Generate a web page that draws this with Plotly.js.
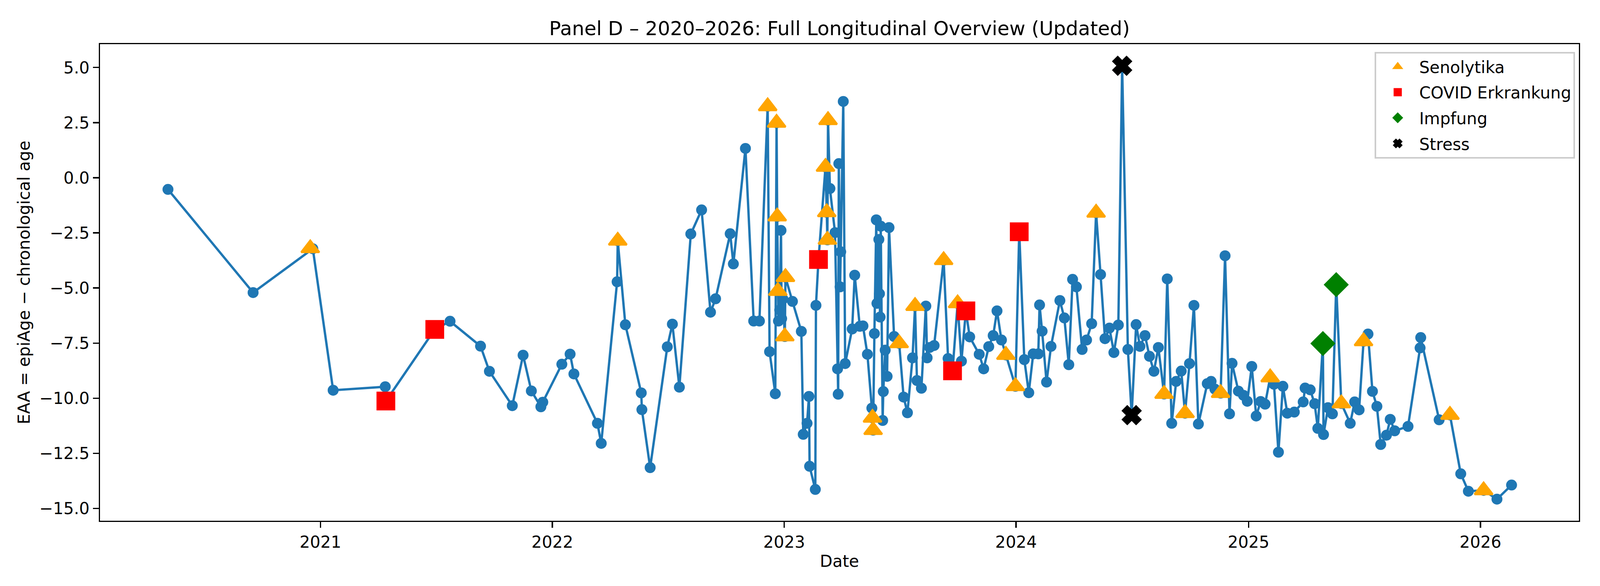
<!DOCTYPE html>
<html>
<head>
<meta charset="utf-8">
<script src="https://cdn.plot.ly/plotly-3.0.1.min.js"></script>
<style>html,body{margin:0;padding:0;background:#fff;overflow:hidden;}#chart{height:1500px;}</style>
</head>
<body>
<div id="chart"></div>
<script>
// ---- main series ----
const dates = [
"2020-05-06","2020-09-17","2020-12-20","2021-01-21","2021-04-13","2021-04-14","2021-06-30","2021-07-24","2021-09-10","2021-09-24",
"2021-10-30","2021-11-16","2021-11-29","2021-12-14","2021-12-17","2022-01-16","2022-01-29","2022-02-04","2022-03-13","2022-03-19",
"2022-04-13","2022-04-14","2022-04-26","2022-05-21","2022-05-22","2022-06-04","2022-07-01","2022-07-09","2022-07-20","2022-08-07",
"2022-08-24","2022-09-07","2022-09-15","2022-10-08","2022-10-13","2022-11-01","2022-11-14","2022-11-23","2022-12-06","2022-12-09",
"2022-12-18","2022-12-20","2022-12-21","2022-12-22","2022-12-23","2022-12-25","2022-12-27","2022-12-28","2022-12-30","2023-01-02",
"2023-01-03","2023-01-14","2023-01-28","2023-01-31","2023-02-06","2023-02-09","2023-02-10","2023-02-19","2023-02-20","2023-02-24",
"2023-03-07","2023-03-09","2023-03-10","2023-03-11","2023-03-14","2023-03-22","2023-03-26","2023-03-27","2023-03-28","2023-03-30",
"2023-03-31","2023-04-04","2023-04-07","2023-04-18","2023-04-22","2023-04-30","2023-05-05","2023-05-12","2023-05-19","2023-05-20",
"2023-05-21","2023-05-23","2023-05-26","2023-05-27","2023-05-30","2023-05-31","2023-06-01","2023-06-02","2023-06-05","2023-06-06",
"2023-06-09","2023-06-12","2023-06-15","2023-06-23","2023-07-01","2023-07-08","2023-07-14","2023-07-22","2023-07-26","2023-07-29",
"2023-08-05","2023-08-12","2023-08-14","2023-08-18","2023-08-25","2023-09-09","2023-09-16","2023-09-23","2023-10-01","2023-10-07",
"2023-10-14","2023-10-20","2023-11-04","2023-11-11","2023-11-19","2023-11-26","2023-12-02","2023-12-09","2023-12-16","2023-12-31",
"2024-01-06","2024-01-14","2024-01-21","2024-01-28","2024-02-05","2024-02-07","2024-02-11","2024-02-18","2024-02-25","2024-03-10",
"2024-03-17","2024-03-24","2024-03-30","2024-04-05","2024-04-14","2024-04-21","2024-04-29","2024-05-06","2024-05-13","2024-05-20",
"2024-05-27","2024-06-03","2024-06-10","2024-06-16","2024-06-25","2024-07-01","2024-07-08","2024-07-14","2024-07-22","2024-07-29",
"2024-08-05","2024-08-12","2024-08-21","2024-08-26","2024-09-02","2024-09-09","2024-09-17","2024-09-23","2024-09-30","2024-10-07",
"2024-10-14","2024-10-28","2024-11-03","2024-11-09","2024-11-18","2024-11-25","2024-12-02","2024-12-06","2024-12-16","2024-12-24",
"2024-12-30","2025-01-06","2025-01-13","2025-01-20","2025-01-27","2025-02-04","2025-02-10","2025-02-17","2025-02-24","2025-03-03",
"2025-03-14","2025-03-28","2025-03-31","2025-04-08","2025-04-15","2025-04-20","2025-04-28","2025-04-29","2025-05-06","2025-05-13",
"2025-05-19","2025-05-27","2025-06-10","2025-06-17","2025-06-24","2025-07-01","2025-07-08","2025-07-15","2025-07-22","2025-07-28",
"2025-08-06","2025-08-12","2025-08-19","2025-09-09","2025-09-28","2025-09-29","2025-10-28","2025-11-14","2025-12-01","2025-12-13",
"2026-01-06","2026-01-27","2026-02-19"
];
const eaa = [
-0.53,-5.21,-3.22,-9.64,-9.48,-10.13,-6.88,-6.51,-7.64,-8.78,
-10.34,-8.05,-9.67,-10.39,-10.18,-8.46,-8.00,-8.90,-11.14,-12.05,
-4.72,-2.86,-6.67,-9.76,-10.52,-13.15,-7.67,-6.64,-9.50,-2.55,
-1.46,-6.10,-5.49,-2.54,-3.91,1.33,-6.50,-6.50,3.24,-7.89,
-9.80,2.49,-1.76,-5.14,-6.50,-6.00,-2.39,-6.39,-5.50,-7.20,
-4.51,-5.61,-6.97,-11.64,-11.14,-9.92,-13.09,-14.14,-5.79,-3.71,
0.49,-1.57,-2.82,2.61,-0.49,-2.49,-8.67,-9.82,0.64,-4.95,
-3.36,3.46,-8.43,-6.86,-4.42,-6.74,-6.72,-8.01,-10.45,-10.89,
-11.45,-7.07,-1.91,-5.70,-2.80,-5.26,-6.32,-2.20,-11.01,-9.70,
-7.82,-9.01,-2.26,-7.20,-7.51,-9.95,-10.66,-8.17,-5.82,-9.20,
-9.55,-5.82,-8.17,-7.70,-7.61,-3.74,-8.20,-8.76,-5.70,-8.32,
-6.04,-7.22,-8.01,-8.67,-7.66,-7.16,-6.04,-7.36,-8.04,-9.46,
-2.45,-8.25,-9.75,-7.99,-7.99,-5.77,-6.96,-9.27,-7.65,-5.57,
-6.36,-8.48,-4.61,-4.95,-7.79,-7.36,-6.62,-1.59,-4.39,-7.30,
-6.82,-7.93,-6.68,5.08,-7.79,-10.77,-6.66,-7.65,-7.16,-8.10,
-8.78,-7.70,-9.81,-4.59,-11.14,-9.24,-8.77,-10.68,-8.43,-5.79,
-11.17,-9.34,-9.24,-9.59,-9.77,-3.54,-10.71,-8.42,-9.68,-9.87,
-10.14,-8.56,-10.81,-10.15,-10.27,-9.06,-9.37,-12.45,-9.46,-10.68,
-10.63,-10.17,-9.54,-9.62,-10.25,-11.37,-7.52,-11.65,-10.43,-10.71,
-4.85,-10.24,-11.14,-10.17,-10.53,-7.42,-7.09,-9.69,-10.37,-12.10,
-11.68,-10.96,-11.48,-11.28,-7.72,-7.25,-10.98,-10.76,-13.43,-14.22,
-14.18,-14.58,-13.94
];

// ---- event markers ----
const senoDates = ["2020-12-16","2022-04-14","2022-12-06","2022-12-20","2022-12-21","2022-12-22","2023-01-02","2023-01-03",
"2023-03-07","2023-03-09","2023-03-10","2023-03-11","2023-05-20","2023-05-21","2023-07-01","2023-07-26","2023-09-09",
"2023-10-01","2023-12-16","2023-12-31","2024-05-06","2024-08-21","2024-09-23","2024-11-18","2025-02-04","2025-05-27",
"2025-07-01","2025-11-14","2026-01-06"];
const senoVals = [-3.20,-2.86,3.24,2.49,-1.76,-5.14,-7.20,-4.51,
0.49,-1.57,-2.82,2.61,-10.89,-11.45,-7.51,-5.82,-3.74,
-5.70,-8.04,-9.46,-1.59,-9.81,-10.68,-9.77,-9.06,-10.24,
-7.42,-10.76,-14.18];
const covidDates = ["2021-04-14","2021-06-30","2023-02-24","2023-09-23","2023-10-14","2024-01-06"];
const covidVals = [-10.13,-6.88,-3.71,-8.76,-6.04,-2.45];
const impfDates = ["2025-04-28","2025-05-19"];
const impfVals = [-7.52,-4.85];
const stressDates = ["2024-06-16","2024-07-01"];
const stressVals = [5.08,-10.77];

const xTickVals = ["2021-01-01","2022-01-01","2023-01-01","2024-01-01","2025-01-01","2026-01-01"];
const xTickText = ["2021","2022","2023","2024","2025","2026"];
const yTickVals = [-15,-12.5,-10,-7.5,-5,-2.5,0,2.5,5];

const FONT = "DejaVu Sans, Liberation Sans, sans-serif";

// the browser viewport may be narrower than 4200 px; lay the figure out to fit it
const W = Math.min(window.innerWidth || 4200, 4200);
const H = 1500;
const sx = W / 4200;
document.getElementById("chart").style.width = W + "px";

const traces = [
  {x: dates, y: eaa, type: "scatter", mode: "lines+markers", showlegend: false,
   line: {color: "#1f77b4", width: 6}, marker: {color: "#1f77b4", size: 28}},
  {x: senoDates, y: senoVals, type: "scatter", mode: "markers", name: "Senolytika", legendgroup: "a",
   marker: {symbol: "triangle-up", color: "orange", size: 40, line: {color: "orange", width: 5}}},
  {x: covidDates, y: covidVals, type: "scatter", mode: "markers", name: "COVID Erkrankung", legendgroup: "b",
   marker: {symbol: "square", color: "red", size: 43, line: {color: "red", width: 5}}},
  {x: impfDates, y: impfVals, type: "scatter", mode: "markers", name: "Impfung", legendgroup: "c",
   marker: {symbol: "diamond", color: "green", size: 44, line: {color: "green", width: 5}}},
  {x: stressDates, y: stressVals, type: "scatter", mode: "markers", name: "Stress", legendgroup: "d",
   marker: {symbol: "x", color: "black", size: 40, line: {color: "black", width: 5}}}
];

const layout = {
  width: W, height: H,
  paper_bgcolor: "#fff", plot_bgcolor: "#fff",
  font: {family: FONT, size: 42, color: "#000"},
  margin: {l: Math.round(262 * sx), r: Math.round(55 * sx), t: 113, b: 167},
  title: {text: "Panel D – 2020–2026: Full Longitudinal Overview (Updated)",
          font: {family: FONT, size: 50, color: "#000"},
          x: 0.5247, xanchor: "center", y: 0.952, yanchor: "middle", yref: "container"},
  xaxis: {
    type: "date", range: ["2020-01-20", "2026-06-05"],
    tickvals: xTickVals, ticktext: xTickText,
    showgrid: false, zeroline: false,
    showline: true, mirror: true, linecolor: "#000", linewidth: 3.3,
    ticks: "outside", ticklen: 15, tickwidth: 3.3, tickcolor: "#000",
    tickfont: {family: FONT, size: 42},
    title: {text: "Date", font: {family: FONT, size: 42}, standoff: 12}
  },
  yaxis: {
    range: [-15.56, 6.06],
    tickvals: yTickVals, tickformat: ".1f",
    showgrid: false, zeroline: false,
    showline: true, mirror: true, linecolor: "#000", linewidth: 3.3,
    ticks: "outside", ticklen: 15, tickwidth: 3.3, tickcolor: "#000",
    tickfont: {family: FONT, size: 42},
    title: {text: "EAA = epiAge − chronological age", font: {family: FONT, size: 42}, standoff: 12}
  },
  legend: {
    x: 0.9974, xanchor: "right", y: 0.984, yanchor: "top",
    bgcolor: "rgba(255,255,255,0.8)", bordercolor: "#cccccc", borderwidth: 4,
    font: {family: FONT, size: 42, color: "#000"},
    traceorder: "grouped", tracegroupgap: 8, itemwidth: 100
  },
  showlegend: true
};

Plotly.newPlot("chart", traces, layout, {staticPlot: true, displayModeBar: false});
</script>
</body>
</html>
